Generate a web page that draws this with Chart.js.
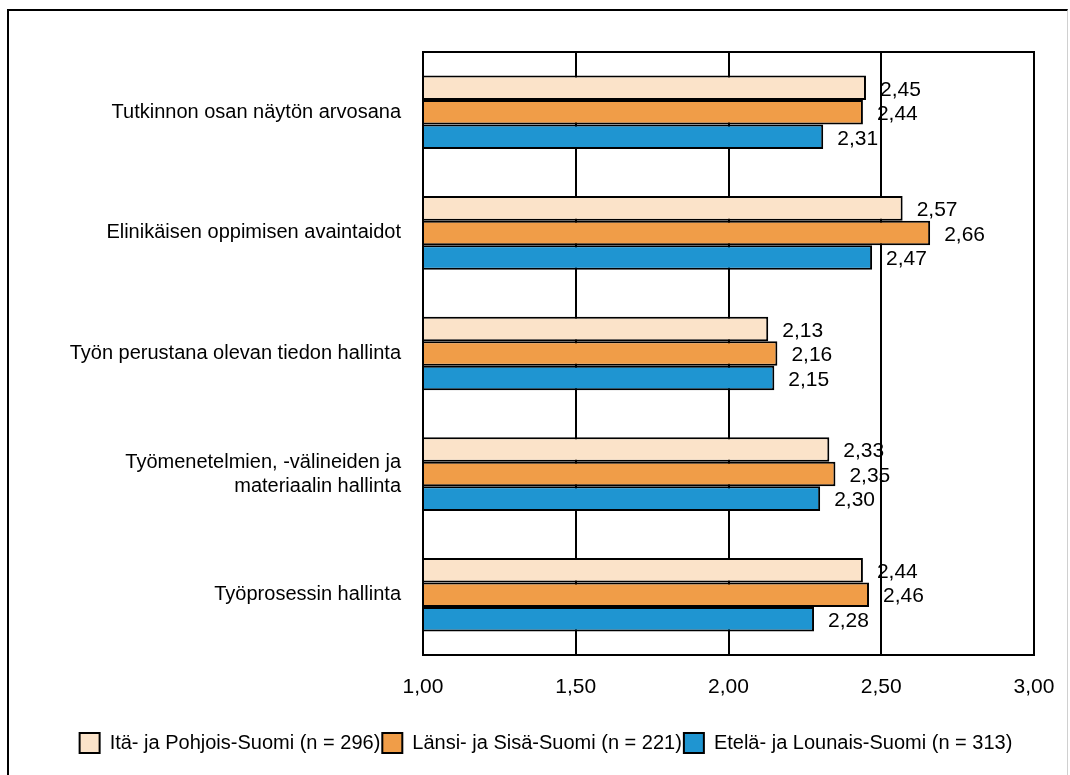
<!DOCTYPE html>
<html>
<head>
<meta charset="utf-8">
<script src="https://cdn.jsdelivr.net/npm/chart.js@4"></script>
<style>
  html, body { margin: 0; padding: 0; background: #fff; overflow: hidden; }
  #frame { position: absolute; left: 7px; top: 9px; width: 1058px; height: 780px; border-left: 2px solid #000; border-top: 2px solid #000; border-right: 1px solid #d0d0d0; }
  #wrap { position: absolute; left: 0; top: 0; width: 1070px; height: 775px; }
</style>
</head>
<body>
<div id="frame"></div>
<div id="wrap"><canvas id="chart"></canvas></div>
<script>
// Categories (top to bottom)
const categories = [
  'Tutkinnon osan näytön arvosana',
  'Elinikäisen oppimisen avaintaidot',
  'Työn perustana olevan tiedon hallinta',
  ['Työmenetelmien, -välineiden ja', 'materiaalin hallinta'],
  'Työprosessin hallinta'
];

// Series
const seriesNames = [
  'Itä- ja Pohjois-Suomi (n = 296)',
  'Länsi- ja Sisä-Suomi (n = 221)',
  'Etelä- ja Lounais-Suomi (n = 313)'
];
const itaValues = [2.45, 2.57, 2.13, 2.33, 2.44];
const lansiValues = [2.44, 2.66, 2.16, 2.35, 2.46];
const etelaValues = [2.31, 2.47, 2.15, 2.30, 2.28];

// Axis
const xMin = 1.0;
const xMax = 3.0;
const xStep = 0.5;

const fontFamily = "'Liberation Sans', Arial, sans-serif";
const fmt = v => v.toFixed(2).replace('.', ',');

// Value labels to the right of each bar
const valueLabels = {
  id: 'valueLabels',
  afterDatasetsDraw(chart) {
    const ctx = chart.ctx;
    ctx.save();
    ctx.font = '21px ' + fontFamily;
    ctx.fillStyle = '#000';
    ctx.textAlign = 'left';
    ctx.textBaseline = 'middle';
    chart.data.datasets.forEach((ds, i) => {
      chart.getDatasetMeta(i).data.forEach((bar, j) => {
        ctx.fillText(fmt(ds.data[j]), bar.x + 14, bar.y + 2);
      });
    });
    ctx.restore();
  }
};

// Frame around the plot area
const plotFrame = {
  id: 'plotFrame',
  afterDraw(chart) {
    const a = chart.chartArea;
    const ctx = chart.ctx;
    ctx.save();
    ctx.strokeStyle = '#000';
    ctx.lineWidth = 2;
    ctx.strokeRect(a.left, a.top, a.right - a.left, a.bottom - a.top);
    ctx.restore();
  }
};

// legend sits a bit right of the plot centre in the original
const legendShift = {
  id: 'legendShift',
  afterLayout(chart) {
    chart.legend.left += 19;
    chart.legend.right += 19;
  }
};

const ctx = document.getElementById('chart').getContext('2d');
new Chart(ctx, {
  type: 'bar',
  data: {
    labels: categories,
    datasets: [
      { label: seriesNames[0], data: itaValues, backgroundColor: '#FBE3C9', borderColor: '#000', borderWidth: 2 },
      { label: seriesNames[1], data: lansiValues, backgroundColor: '#F09D48', borderColor: '#000', borderWidth: 2 },
      { label: seriesNames[2], data: etelaValues, backgroundColor: '#1F95D1', borderColor: '#000', borderWidth: 2 }
    ]
  },
  options: {
    indexAxis: 'y',
    responsive: true,
    maintainAspectRatio: false,
    animation: false,
    categoryPercentage: 0.61,
    barPercentage: 1.0,
    layout: { padding: { left: 20, right: 36, top: 52, bottom: 12 } },
    scales: {
      x: {
        min: xMin,
        max: xMax,
        ticks: {
          stepSize: xStep,
          color: '#000',
          padding: 20,
          font: { family: fontFamily, size: 21 },
          callback: v => fmt(v)
        },
        grid: { color: '#000', lineWidth: 2, drawTicks: false },
        border: { display: true, color: '#000', width: 2 },
        afterFit: s => { s.height = 76; s.paddingRight = 0; s.paddingLeft = 0; }
      },
      y: {
        ticks: {
          color: '#000',
          padding: 14,
          font: { family: fontFamily, size: 20 }
        },
        grid: { display: false },
        border: { display: true, color: '#000', width: 2 },
        afterFit: s => { s.width = 403; }
      }
    },
    plugins: {
      legend: {
        position: 'bottom',
        labels: {
          color: '#000',
          boxWidth: 20,
          boxHeight: 20,
          padding: 2,
          font: { family: fontFamily, size: 20 }
        }
      },
      tooltip: { enabled: false }
    }
  },
  plugins: [valueLabels, plotFrame, legendShift]
});
</script>
</body>
</html>
